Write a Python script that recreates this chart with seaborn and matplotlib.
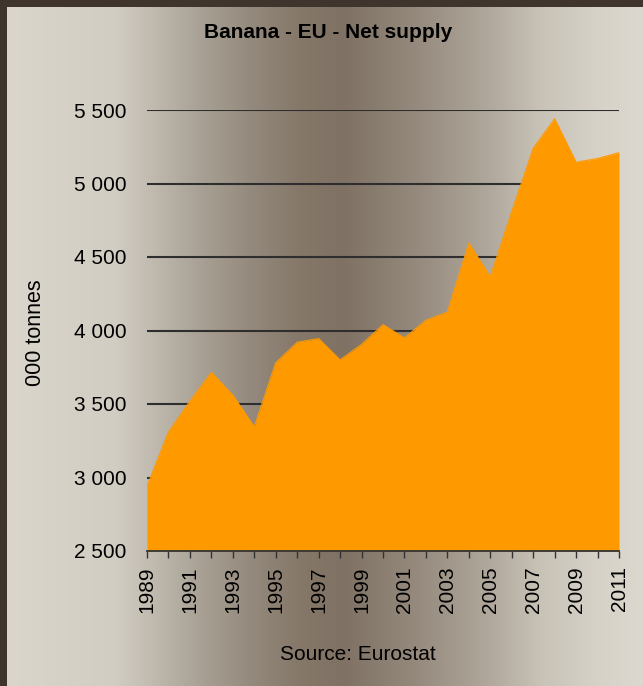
import numpy as np
import pandas as pd
import matplotlib
matplotlib.use("Agg")
import matplotlib.pyplot as plt
from matplotlib.colors import LinearSegmentedColormap
import seaborn as sns

# data (000 tonnes)
years = list(range(1989, 2012))
supply = [2940, 3310, 3520, 3715, 3560, 3345, 3780, 3920, 3945, 3800, 3905,
          4040, 3950, 4070, 4125, 4595, 4365, 4810, 5240, 5440, 5145, 5170, 5210]
y_ticks = [2500, 3000, 3500, 4000, 4500, 5000, 5500]

df = pd.DataFrame({"year": years, "supply": supply})

sns.set_theme(style="white", rc={"text.color": "black", "axes.labelcolor": "black",
                                 "xtick.color": "black", "ytick.color": "black"})
plt.rcParams['font.family'] = ['Liberation Sans', 'DejaVu Sans']

fig = plt.figure(figsize=(6.43, 6.86), dpi=100)
fig.patch.set_facecolor("#3f352d")

# gradient background (light edges, dark middle)
bg = fig.add_axes([7/643, 0, 1 - 7/643, 1 - 7/686])
bg.set_zorder(-1)
stops = [(0.0, "#dad6cc"), (0.17, "#d2cdc3"), (0.30, "#aaa296"), (0.38, "#958a7e"),
         (0.46, "#857869"), (0.53, "#7f7264"), (0.65, "#968b7e"), (0.76, "#b0a89c"),
         (0.84, "#c8c2b7"), (0.93, "#d6d2c8"), (1.0, "#dcd8cf")]
cmap = LinearSegmentedColormap.from_list("bg", stops)
bg.imshow(np.linspace(0, 1, 256)[None, :], aspect="auto", cmap=cmap,
          extent=[0, 1, 0, 1])
bg.axis("off")

ax = fig.add_axes([147/643, 1 - 551/686, 472/643, 441/686])
ax.set_facecolor("none")

sns.lineplot(data=df, x="year", y="supply", color="#ff9900", lw=0.8, ax=ax, zorder=3)
ax.fill_between(df["year"], df["supply"], 2500, color="#ff9900", lw=0, zorder=3)

ax.set_xlim(1989, 2011)
ax.set_ylim(2500, 5500)
ax.set_yticks(y_ticks)
ax.set_yticklabels([f"{v:,}".replace(",", " ") for v in y_ticks], fontsize=15)
for v in y_ticks[1:]:
    ax.axhline(v, color="#2e2e2e", lw=1.5, zorder=1)

ax.set_xticks(years)
ax.set_xticklabels([str(y) if y % 2 == 1 else "" for y in years],
                   rotation=90, fontsize=15)
ax.tick_params(axis="x", length=5, width=1, color="#333333", direction="out",
               pad=6, bottom=True)
ax.tick_params(axis="y", length=0, pad=15)

for s in ["top", "right", "left"]:
    ax.spines[s].set_visible(False)
ax.spines["bottom"].set_color("#333333")
ax.spines["bottom"].set_linewidth(1.3)
ax.spines["bottom"].set_zorder(4)

ax.set_xlabel("")
ax.set_ylabel("000 tonnes", fontsize=15.5)
ax.yaxis.set_label_coords(-0.213, 0.494)

fig.text(328/643, 1 - 32/686, "Banana - EU - Net supply", ha="center",
         va="center", fontsize=15, fontweight="bold")
fig.text(358/643, 1 - 655/686, "Source: Eurostat", ha="center", va="center",
         fontsize=15)

fig.savefig("out.png", dpi=100, facecolor=fig.get_facecolor())
